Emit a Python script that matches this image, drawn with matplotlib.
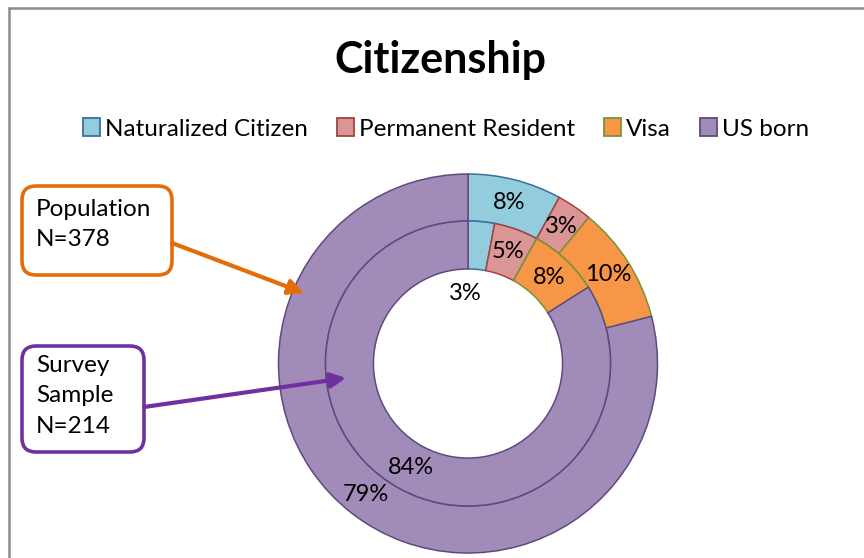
import numpy as np
import matplotlib.pyplot as plt
from matplotlib.patches import FancyBboxPatch, Patch

plt.rcParams['font.family'] = ['Lato', 'DejaVu Sans']

categories = ['Naturalized Citizen', 'Permanent Resident', 'Visa', 'US born']
population = [8, 3, 10, 79]   # outer ring, N=378
sample = [3, 5, 8, 84]        # inner ring, N=214

fills = ['#93CDDD', '#D99694', '#F79646', '#A08BB9']
edges = ['#3B6E9E', '#A5423F', '#77933C', '#5E4A7E']

W, H = 864, 558
fig = plt.figure(figsize=(W / 100, H / 100), dpi=100)

# pie axes: centre (468, 363.5) px, outer radius 189.5 px
cx, cy, R = 468, 363.5, 189.5
ax = fig.add_axes([(cx - R) / W, (H - cy - R) / H, 2 * R / W, 2 * R / H])

r_mid, r_hole = 0.752, 0.499
outer, _ = ax.pie(population, radius=1, startangle=90, counterclock=False,
                  colors=fills, wedgeprops=dict(width=1 - r_mid, linewidth=1.1))
inner, _ = ax.pie(sample, radius=r_mid, startangle=90, counterclock=False,
                  colors=fills, wedgeprops=dict(width=r_mid - r_hole, linewidth=1.1))
for w, e in zip(outer, edges):
    w.set_edgecolor(e)
for w, e in zip(inner, edges):
    w.set_edgecolor(e)
# pie() sets its own limits, so reset afterwards
ax.set_xlim(-1, 1)
ax.set_ylim(-1, 1)
ax.set_aspect('equal')
ax.axis('off')

def put_label(wedge, val, r, ang=None):
    if ang is None:
        ang = (wedge.theta1 + wedge.theta2) / 2
    a = np.deg2rad(ang)
    ax.text(r * np.cos(a), r * np.sin(a), f'{val}%', ha='center', va='center',
            fontsize=17, color='black')

for w, v in zip(outer, population):
    put_label(w, v, (1 + r_mid) / 2)
for i, (w, v) in enumerate(zip(inner, sample)):
    if i == 0:
        # too small to fit, Excel pushed it into the hole
        put_label(w, v, 0.37, w.theta2 + 2)
    else:
        put_label(w, v, (r_mid + r_hole) / 2)

# title
fig.text(440 / W, 1 - 60 / H, 'Citizenship', ha='center', va='center',
         fontsize=31, fontweight='bold')

# legend
handles = [Patch(facecolor=f, edgecolor=e, linewidth=1.3) for f, e in zip(fills, edges)]
fig.legend(handles, categories, loc='center', bbox_to_anchor=(446 / W, 1 - 129 / H),
           ncol=4, frameon=False, fontsize=17.5, handlelength=0.7, handleheight=0.7,
           handletextpad=0.2, columnspacing=1.2)

# overlay in pixel coordinates for call-outs and chart border
ov = fig.add_axes([0, 0, 1, 1], zorder=5)
ov.set_xlim(0, W)
ov.set_ylim(H, 0)
ov.axis('off')
ov.patch.set_alpha(0)

ov.plot([8, W], [7.5, 7.5], color='#8C8C8C', lw=1.8, solid_capstyle='butt')
ov.plot([8.5, 8.5], [7, H], color='#8C8C8C', lw=1.8, solid_capstyle='butt')

ov.add_patch(FancyBboxPatch((22, 186), 150, 89, boxstyle='round,pad=0,rounding_size=14',
                            facecolor='white', edgecolor='#E46C0A', lw=2.6))
ov.text(36, 199, 'Population\nN=378', ha='left', va='top', fontsize=17.5, linespacing=1.55)
ov.annotate('', xy=(304, 293), xytext=(172, 243),
            arrowprops=dict(arrowstyle='-|>,head_length=0.9,head_width=0.45',
                            color='#E46C0A', lw=3, shrinkA=0, shrinkB=0))

ov.add_patch(FancyBboxPatch((22, 346), 122, 106, boxstyle='round,pad=0,rounding_size=14',
                            facecolor='white', edgecolor='#7030A0', lw=2.6))
ov.text(36, 355, 'Survey\nSample\nN=214', ha='left', va='top', fontsize=17.5, linespacing=1.55)
ov.annotate('', xy=(346, 378), xytext=(144, 407),
            arrowprops=dict(arrowstyle='-|>,head_length=0.9,head_width=0.45',
                            color='#7030A0', lw=3, shrinkA=0, shrinkB=0))

fig.savefig('out.png', dpi=100)
